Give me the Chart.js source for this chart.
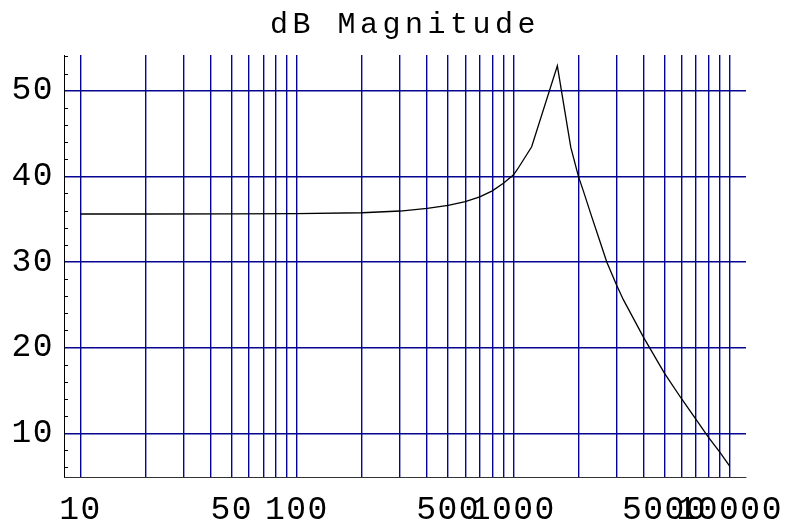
<!DOCTYPE html>
<html>
<head>
    <title>dB Magnitude</title>
    <script src="https://cdn.jsdelivr.net/npm/chart.js"></script>
    <style>
        body {margin: 0; background: #fff;}
        #wrap {width: 788px; height: 529px;}
    </style>
</head>
<body>
<div id="wrap"><canvas id="chart" width="788" height="529"></canvas></div>
<script>
    // frequency (Hz) and magnitude (dB)
    var freqs = [10, 20, 50, 100, 200, 300, 400, 500, 600, 700, 800, 900, 1000, 1044, 1216, 1598,
                 1843, 2000, 2107, 2303, 2500, 2704, 3000, 3225, 4000, 5000, 6000, 7000, 8000, 9000, 10000];
    var dbValues = [35.6, 35.6, 35.62, 35.65, 35.75, 35.95, 36.25, 36.6, 37.05, 37.6, 38.3, 39.2, 40.15, 40.8, 43.45, 52.9,
                    43.4, 40.0, 38.3, 35.3, 32.6, 30.0, 27.3, 25.6, 21.2, 17.0, 14.0, 11.6, 9.5, 7.8, 6.15];

    // grid / tick positions
    var xGrid = [10, 20, 30, 40, 50, 60, 70, 80, 90, 100, 200, 300, 400, 500, 600, 700, 800, 900,
                 1000, 2000, 3000, 4000, 5000, 6000, 7000, 8000, 9000, 10000];
    var xLabels = [10, 50, 100, 500, 1000, 5000, 10000];
    var yTicks = [10, 20, 30, 40, 50];
    var yMinor = [6, 8, 12, 14, 16, 18, 22, 24, 26, 28, 32, 34, 36, 38, 42, 44, 46, 48, 52, 54];

    var gridBlue = 'rgb(5,5,145)';

    var extras = {
        id: 'extras',
        beforeDraw: function(chart) {
            chart.ctx.letterSpacing = '1.5px';
        },
        afterDraw: function(chart) {
            var ctx = chart.ctx;
            var y = chart.scales.y;
            var left = chart.chartArea.left;
            ctx.save();
            // small inward minor ticks on the left axis
            ctx.strokeStyle = '#000';
            ctx.lineWidth = 1;
            ctx.beginPath();
            yMinor.forEach(function(v) {
                var py = Math.round(y.getPixelForValue(v)) + 0.5;
                ctx.moveTo(left, py);
                ctx.lineTo(left + 4, py);
            });
            ctx.stroke();
            // title
            ctx.letterSpacing = '4.5px';
            ctx.font = '30px "Liberation Mono", monospace';
            ctx.fillStyle = '#000';
            ctx.textAlign = 'center';
            ctx.textBaseline = 'alphabetic';
            ctx.fillText('dB Magnitude', 405, 33);
            ctx.restore();
        }
    };

    var ctx = document.getElementById('chart').getContext('2d');
    var chart = new Chart(ctx, {
        type: 'line',
        data: {
            datasets: [{
                data: freqs.map(function(f, i) { return {x: f, y: dbValues[i]}; }),
                borderColor: '#000',
                borderWidth: 1.3,
                pointRadius: 0,
                tension: 0,
                fill: false
            }]
        },
        plugins: [extras],
        options: {
            responsive: false,
            animation: false,
            layout: {
                padding: {top: 55, right: 42, left: 0, bottom: 0}
            },
            plugins: {
                legend: {display: false},
                title: {display: false},
                tooltip: {enabled: false}
            },
            scales: {
                x: {
                    type: 'logarithmic',
                    min: 8.39,
                    max: 11896,
                    afterBuildTicks: function(scale) {
                        scale.ticks = xGrid.map(function(v) { return {value: v}; });
                    },
                    afterFit: function(scale) {
                        scale.height = 52;
                        // let the layout padding decide the plot edges, labels may overhang
                        scale.paddingLeft = 0;
                        scale.paddingRight = 0;
                    },
                    grid: {color: gridBlue, lineWidth: 1.4, drawTicks: false},
                    border: {color: '#333', width: 1},
                    ticks: {
                        autoSkip: false,
                        maxRotation: 0,
                        padding: 13,
                        color: '#000',
                        font: {family: '"Liberation Mono", monospace', size: 33},
                        callback: function(value) {
                            return xLabels.indexOf(value) >= 0 ? String(value) : '';
                        }
                    }
                },
                y: {
                    type: 'linear',
                    min: 4.89,
                    max: 54.17,
                    afterBuildTicks: function(scale) {
                        scale.ticks = yTicks.map(function(v) { return {value: v}; });
                    },
                    afterFit: function(scale) {
                        scale.width = 64;
                        scale.paddingTop = 0;
                        scale.paddingBottom = 0;
                    },
                    grid: {color: gridBlue, lineWidth: 1.4, drawTicks: false},
                    border: {color: '#000', width: 1},
                    ticks: {
                        padding: 10,
                        color: '#000',
                        font: {family: '"Liberation Mono", monospace', size: 33}
                    }
                }
            }
        }
    });
</script>
</body>
</html>
